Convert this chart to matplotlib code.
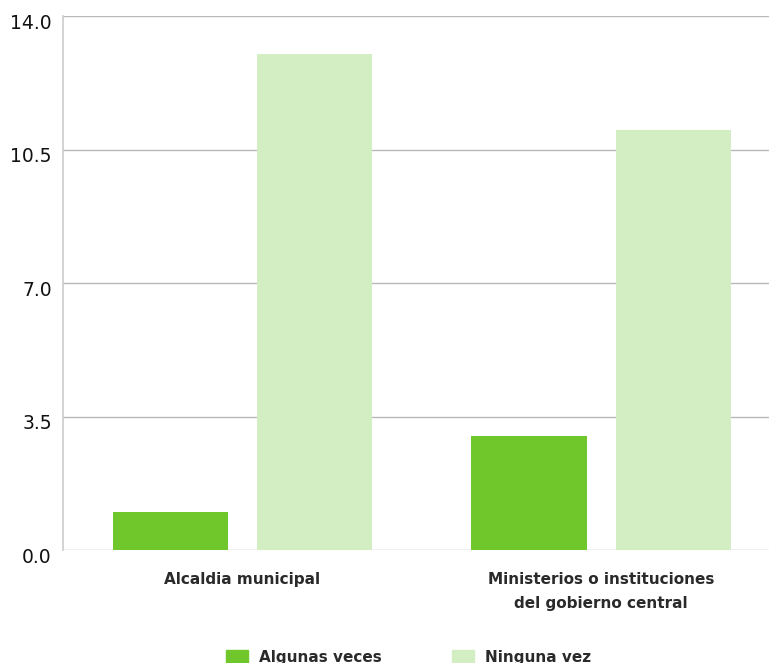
import numpy as np
import matplotlib
matplotlib.use("Agg")
import matplotlib.pyplot as plt
from matplotlib.patches import Patch
from matplotlib.transforms import ScaledTranslation

categories = ["Alcaldia municipal", "Ministerios o instituciones\ndel gobierno central"]
series_names = ["Algunas veces", "Ninguna vez"]
algunas = [1.0, 3.0]
ninguna = [13.0, 11.0]
yticks = [0.0, 3.5, 7.0, 10.5, 14.0]

COLORS = ["#70c72b", "#d4eec3"]

plt.rcParams["font.family"] = ["DejaVu Sans"]

fig = plt.figure(figsize=(7.69, 6.63), dpi=100)
ax = fig.add_axes([0.0819, 0.1704, 0.9181, 0.8054])

x = np.arange(len(categories))
w = 0.321
off = 0.2008
ax.bar(x - off, algunas, width=w, color=COLORS[0], zorder=3)
ax.bar(x + off, ninguna, width=w, color=COLORS[1], zorder=3)

ax.set_xlim(-0.5, 1.468)
ax.set_ylim(0, 14)
ax.set_yticks(yticks)
ax.set_yticklabels([f"{v:.1f}" for v in yticks], fontsize=13.5, color="#111111")
ax.set_xticks(x)
ax.set_xticklabels(categories, fontsize=11, fontweight="bold", linespacing=1.75,
                   color="#2a2a2a")
ax.tick_params(axis="x", length=0, pad=16)
ax.tick_params(axis="y", length=0, pad=8)
shift = ScaledTranslation(0, -0.05, fig.dpi_scale_trans)
for lab in ax.get_yticklabels():
    lab.set_transform(lab.get_transform() + shift)
ax.grid(axis="y", color="#b8b8b8", lw=1.0, zorder=0)
for s in ["top", "right", "bottom"]:
    ax.spines[s].set_visible(False)
ax.spines["left"].set_color("#cccccc")
ax.spines["left"].set_linewidth(1.2)

handles = [Patch(color=c, label=n) for c, n in zip(COLORS, series_names)]
leg = fig.legend(handles=handles, loc="center", bbox_to_anchor=(0.531, 0.009), ncol=2,
                 frameon=False, handlelength=1.45, handleheight=0.9,
                 columnspacing=4.6, handletextpad=0.7,
                 prop={"size": 11, "weight": "bold"})
for t in leg.get_texts():
    t.set_color("#2a2a2a")

fig.savefig("out.png", dpi=100, facecolor="white")
